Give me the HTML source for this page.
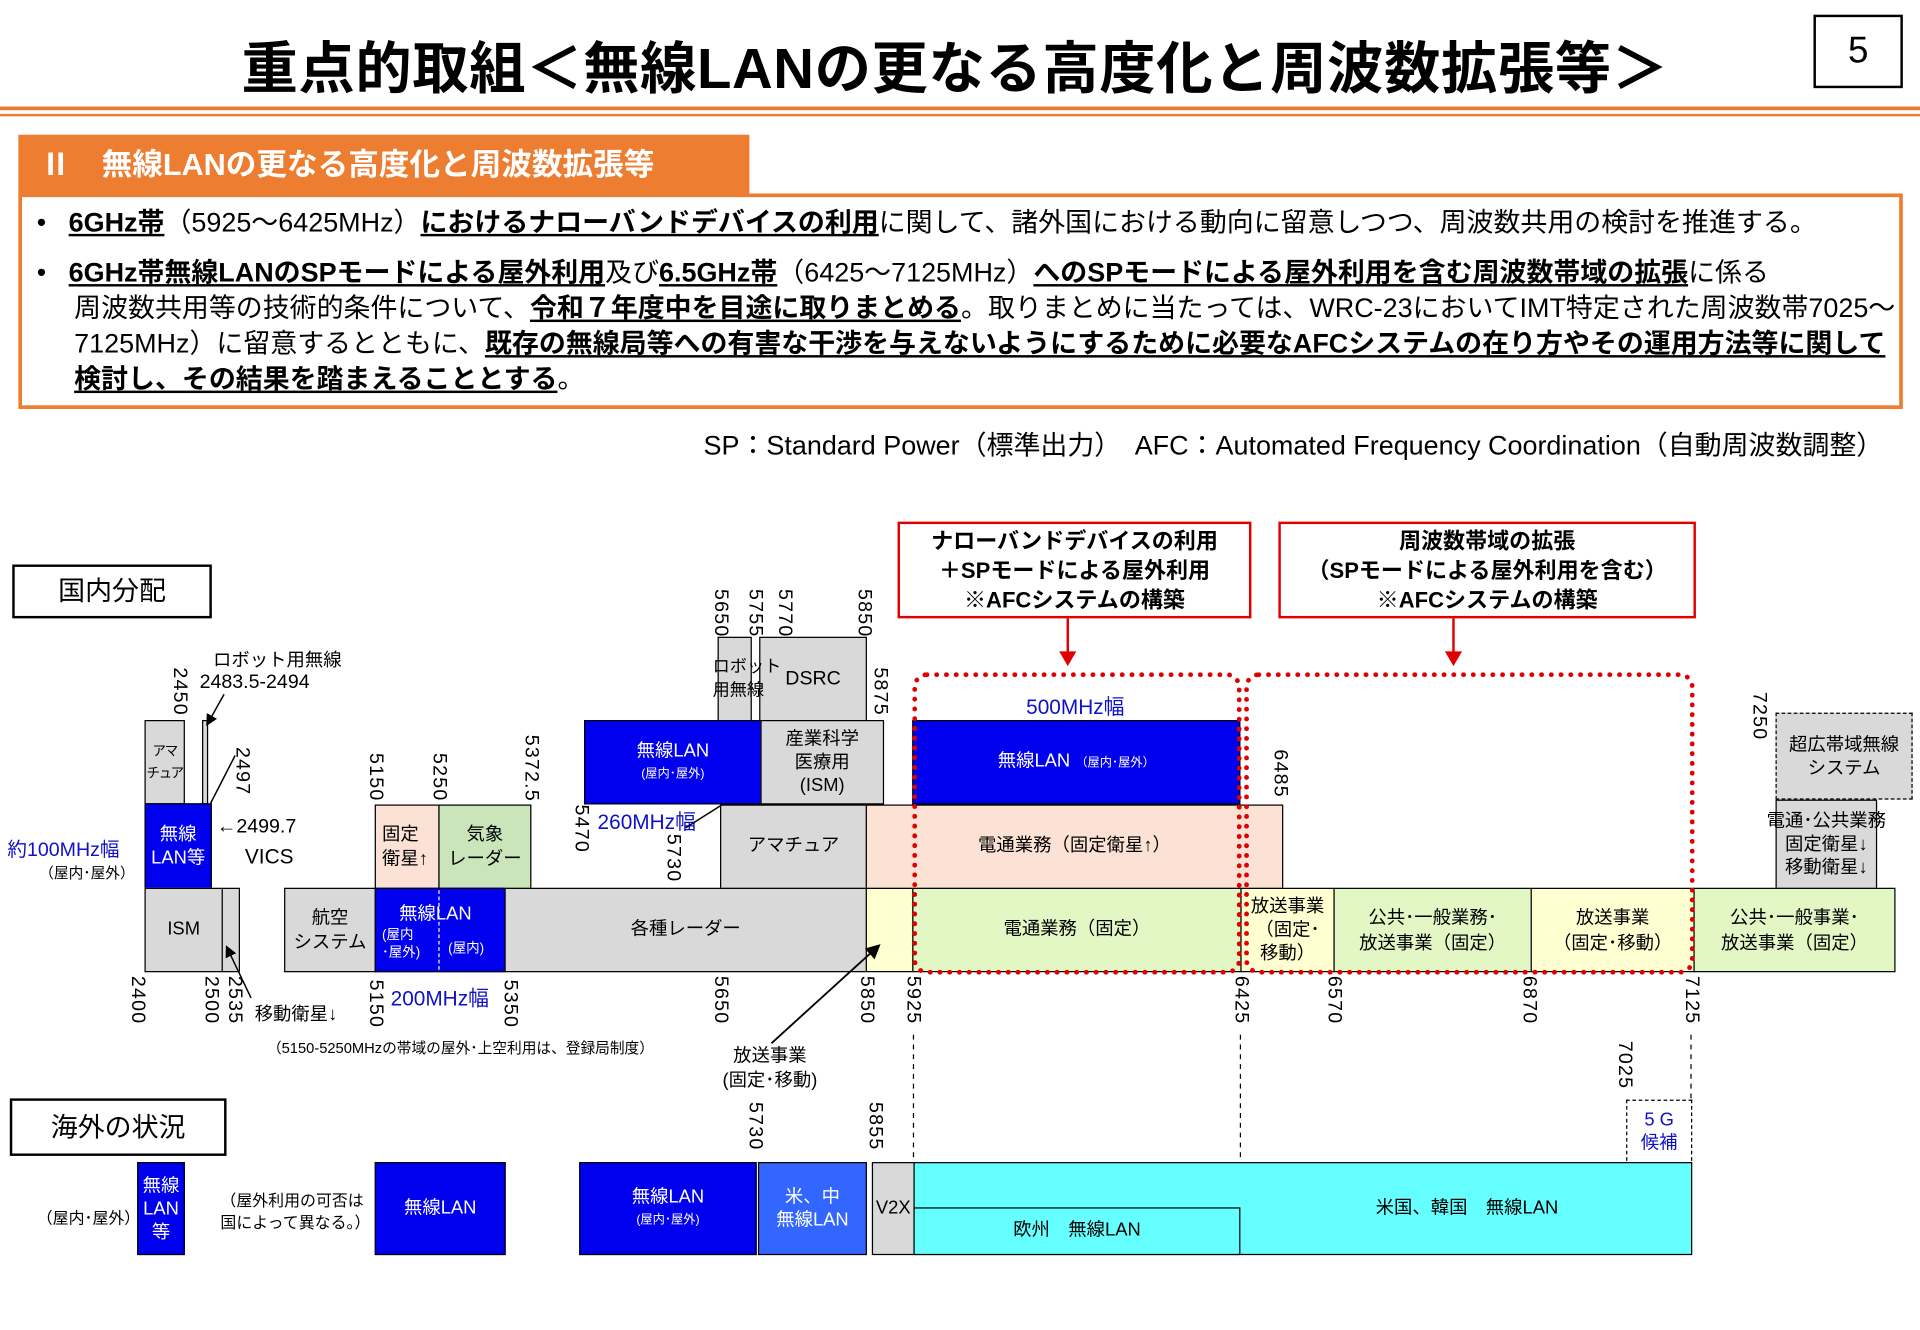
<!DOCTYPE html>
<html><head><meta charset="utf-8">
<style>
html,body{margin:0;padding:0;background:#fff;overflow:hidden;width:1920px;height:1329px}
#s{position:absolute;left:0;top:0;width:1568px;height:1086px;transform:scale(1.22449);transform-origin:0 0;font-family:"Liberation Sans","Noto Sans CJK JP",sans-serif;color:#000}
#s div{position:absolute;box-sizing:border-box}
.b{display:flex;align-items:center;justify-content:center;text-align:center;border:1.5px solid #000;font-size:15px;line-height:1.25}
.g{background:#d9d9d9}.bl{background:#0000ee;color:#fff}.pk{background:#fbe2d5}.gr{background:#e2f7c4}.ye{background:#ffffd2}.gg{background:#c9e5b9}
.v{writing-mode:vertical-rl;font-size:16px;line-height:1;letter-spacing:1px}
.t{font-size:15px;white-space:nowrap}
.sm{font-size:10px}
.u{text-decoration:underline;font-weight:bold}
.blu{color:#1010c8}
</style></head><body><div id="s">
<div style="left:0;top:20px;width:1560px;text-align:center;font-size:46px;font-weight:bold;letter-spacing:0.5px;white-space:nowrap">重点的取組＜無線LANの更なる高度化と周波数拡張等＞</div>
<div style="left:1481px;top:12px;width:73px;height:60px;border:2px solid #000;font-size:30px;text-align:center;line-height:56px">5</div>
<div style="left:0;top:87px;width:1568px;height:3px;background:#e97c30"></div>
<div style="left:0;top:93px;width:1568px;height:2px;background:#e97c30"></div>
<div style="left:15px;top:110px;width:597px;height:50px;background:#ed7d31;color:#fff;font-size:25px;font-weight:bold;line-height:50px;padding-left:18px">Ⅱ　無線LANの更なる高度化と周波数拡張等</div>
<div style="left:15px;top:158px;width:1539px;height:176px;border:3px solid #ed7d31"></div>
<div style="left:30px;top:167px;width:1520px;font-size:22px;line-height:29px;white-space:nowrap">•&nbsp;&nbsp;&nbsp;<span class="u">6GHz帯</span>（5925～6425MHz）<span class="u">におけるナローバンドデバイスの利用</span>に関して、諸外国における動向に留意しつつ、周波数共用の検討を推進する。</div>
<div style="left:30px;top:208px;width:1520px;font-size:22px;line-height:29px;white-space:nowrap">•&nbsp;&nbsp;&nbsp;<span class="u">6GHz帯無線LANのSPモードによる屋外利用</span>及び<span class="u">6.5GHz帯</span>（6425～7125MHz）<span class="u">へのSPモードによる屋外利用を含む周波数帯域の拡張</span>に係る<br>&nbsp;&nbsp;&nbsp;&nbsp;&nbsp;周波数共用等の技術的条件について、<span class="u">令和７年度中を目途に取りまとめる</span>。取りまとめに当たっては、WRC-23においてIMT特定された周波数帯7025～<br>&nbsp;&nbsp;&nbsp;&nbsp;&nbsp;7125MHz）に留意するとともに、<span class="u">既存の無線局等への有害な干渉を与えないようにするために必要なAFCシステムの在り方やその運用方法等に関して</span><br>&nbsp;&nbsp;&nbsp;&nbsp;&nbsp;<span class="u">検討し、その結果を踏まえることとする</span>。</div>
<div style="left:400px;top:346px;width:1138px;text-align:right;font-size:22px;white-space:nowrap">SP：Standard Power（標準出力）　AFC：Automated Frequency Coordination（自動周波数調整）</div>

<div class="b" style="left:10px;top:461px;width:163px;height:44px;border-width:2px;font-size:22px">国内分配</div>
<div class="b" style="left:8px;top:897px;width:177px;height:47px;border-width:2px;font-size:22px">海外の状況</div>

<div class="b" style="left:733px;top:426px;width:289px;height:79px;border:2.5px solid #e00000;font-weight:bold;font-size:18px;line-height:24px">ナローバンドデバイスの利用<br>＋SPモードによる屋外利用<br>※AFCシステムの構築</div>
<div class="b" style="left:1044px;top:426px;width:341px;height:79px;border:2.5px solid #e00000;font-weight:bold;font-size:18px;line-height:24px">周波数帯域の拡張<br>（SPモードによる屋外利用を含む）<br>※AFCシステムの構築</div>
<div style="left:871px;top:505px;width:2px;height:36px;background:#e00000"></div>
<div style="left:865px;top:532px;width:0;height:0;border-left:7px solid transparent;border-right:7px solid transparent;border-top:12px solid #e00000"></div>
<div style="left:1186px;top:505px;width:2px;height:36px;background:#e00000"></div>
<div style="left:1180px;top:532px;width:0;height:0;border-left:7px solid transparent;border-right:7px solid transparent;border-top:12px solid #e00000"></div>

<!-- row 4 -->
<div class="b g" style="left:586px;top:520px;width:28px;height:69px"></div>
<div class="t" style="left:582px;top:535px;font-size:14px;line-height:19px;z-index:2">ロボット<br>用無線</div>
<div class="b g" style="left:620px;top:520px;width:88px;height:69px;font-size:16px">DSRC</div>
<!-- row 3 -->
<div class="b g" style="left:118px;top:588px;width:33px;height:69px;font-size:11px;line-height:18px;letter-spacing:-1px">アマ<br>チュア</div>
<div class="b g" style="left:165px;top:588px;width:5px;height:69px"></div>
<div class="b bl" style="left:477px;top:588px;width:145px;height:69px;font-size:15px;line-height:17px"><span>無線LAN<br><span class="sm">(屋内･屋外)</span></span></div>
<div class="b g" style="left:621px;top:588px;width:101px;height:69px;font-size:15px;line-height:19px">産業科学<br>医療用<br>(ISM)</div>
<div class="b bl" style="left:745px;top:588px;width:268px;height:69px;font-size:15px"><span>無線LAN <span class="sm">（屋内･屋外）</span></span></div>
<div class="b g" style="left:1450px;top:582px;width:112px;height:71px;border:1.5px dashed #000;font-size:15px;line-height:19px">超広帯域無線<br>システム</div>
<!-- row 2 -->
<div class="b bl" style="left:118px;top:656px;width:55px;height:70px;font-size:15px;line-height:19px">無線<br>LAN等</div>
<div class="b pk" style="left:306px;top:657px;width:53px;height:69px;justify-content:flex-start;padding-left:5px;text-align:left;line-height:20px">固定<br>衛星↑</div>
<div class="b gg" style="left:358px;top:657px;width:76px;height:69px;line-height:20px">気象<br>レーダー</div>
<div class="b g" style="left:588px;top:657px;width:120px;height:69px">アマチュア</div>
<div class="b pk" style="left:707px;top:657px;width:341px;height:69px">電通業務（固定衛星↑）</div>
<div class="b g" style="left:1450px;top:653px;width:83px;height:73px;font-size:15px;line-height:19px;white-space:nowrap">電通･公共業務<br>固定衛星↓<br>移動衛星↓</div>
<!-- row 1 -->
<div class="b g" style="left:118px;top:725px;width:64px;height:69px">ISM</div>
<div class="b g" style="left:181px;top:725px;width:15px;height:69px"></div>
<div class="b g" style="left:232px;top:725px;width:75px;height:69px;line-height:20px">航空<br>システム</div>
<div class="b bl" style="left:306px;top:725px;width:107px;height:69px"></div>
<div style="left:358px;top:727px;width:0;height:65px;border-left:1.5px dashed #fff"></div>
<div class="t" style="left:326px;top:735px;color:#fff;font-size:15px">無線LAN</div>
<div class="t" style="left:312px;top:757px;color:#fff;font-size:11px;line-height:14px">(屋内<br>･屋外)</div>
<div class="t" style="left:366px;top:766px;color:#fff;font-size:11px">(屋内)</div>
<div class="b g" style="left:412px;top:725px;width:296px;height:69px">各種レーダー</div>
<div class="b ye" style="left:707px;top:725px;width:39px;height:69px"></div>
<div class="b gr" style="left:745px;top:725px;width:269px;height:69px">電通業務（固定）</div>
<div class="b ye" style="left:1013px;top:725px;width:77px;height:69px;line-height:19px">放送事業<br>（固定･<br>移動）</div>
<div class="b gr" style="left:1089px;top:725px;width:162px;height:69px;line-height:21px">公共･一般業務･<br>放送事業（固定）</div>
<div class="b ye" style="left:1250px;top:725px;width:134px;height:69px;line-height:21px">放送事業<br>（固定･移動）</div>
<div class="b gr" style="left:1383px;top:725px;width:165px;height:69px;line-height:21px">公共･一般事業･<br>放送事業（固定）</div>

<!-- dotted red -->
<div style="left:745px;top:549px;width:269px;height:247px;border:4px dotted #e00000;border-radius:12px"></div>
<div style="left:1016px;top:549px;width:368px;height:247px;border:4px dotted #e00000;border-radius:12px"></div>

<!-- labels -->
<div class="t blu" style="left:838px;top:563px;font-size:17px">500MHz幅</div>
<div class="t blu" style="left:488px;top:657px;font-size:17px">260MHz幅</div>
<div class="t blu" style="left:319px;top:801px;font-size:17px">200MHz幅</div>
<div class="t blu" style="left:6px;top:680px;font-size:16px">約100MHz幅</div>
<div class="t" style="left:32px;top:704px;font-size:12px">（屋内･屋外）</div>
<div class="t" style="left:174px;top:528px">ロボット用無線</div>
<div class="t" style="left:163px;top:549px;font-size:16px">2483.5-2494</div>
<div class="t" style="left:177px;top:667px;font-size:16px">←2499.7</div>
<div class="t" style="left:200px;top:690px;font-size:17px">VICS</div>
<div class="t" style="left:208px;top:817px">移動衛星↓</div>
<div class="t" style="left:218px;top:847px;font-size:12px">（5150-5250MHzの帯域の屋外･上空利用は、登録局制度）</div>
<div class="t" style="left:590px;top:853px;line-height:20px;text-align:center">放送事業<br>(固定･移動)</div>
<svg style="position:absolute;left:0;top:0" width="1568" height="1086">
<defs><marker id="a" markerWidth="8" markerHeight="8" refX="7" refY="4" orient="auto"><path d="M0,0 L8,4 L0,8 z" fill="#000"/></marker></defs>
<line x1="183" y1="567" x2="169" y2="592" stroke="#000" stroke-width="1.2" marker-end="url(#a)"/>
<line x1="172" y1="656" x2="192" y2="617" stroke="#000" stroke-width="1.2"/>
<line x1="205" y1="815" x2="185" y2="773" stroke="#000" stroke-width="1.2" marker-end="url(#a)"/>
<line x1="630" y1="852" x2="718" y2="772" stroke="#000" stroke-width="1.5" marker-end="url(#a)"/>
<line x1="560" y1="676" x2="590" y2="657" stroke="#000" stroke-width="1.2"/>
<line x1="746" y1="845" x2="746" y2="949" stroke="#000" stroke-dasharray="4,4"/>
<line x1="1013" y1="845" x2="1013" y2="949" stroke="#000" stroke-dasharray="4,4"/>
<line x1="1381" y1="845" x2="1381" y2="949" stroke="#000" stroke-dasharray="4,4"/>
</svg>
<!-- vertical numbers -->
<div class="v" style="left:138px;top:545px">2450</div>
<div class="v" style="left:189px;top:610px">2497</div>
<div class="v" style="left:104px;top:797px">2400</div>
<div class="v" style="left:164px;top:797px">2500</div>
<div class="v" style="left:183px;top:797px">2535</div>
<div class="v" style="left:298px;top:615px">5150</div>
<div class="v" style="left:350px;top:615px">5250</div>
<div class="v" style="left:425px;top:600px">5372.5</div>
<div class="v" style="left:298px;top:800px">5150</div>
<div class="v" style="left:408px;top:800px">5350</div>
<div class="v" style="left:466px;top:657px">5470</div>
<div class="v" style="left:541px;top:681px">5730</div>
<div class="v" style="left:580px;top:481px">5650</div>
<div class="v" style="left:608px;top:481px">5755</div>
<div class="v" style="left:632px;top:481px">5770</div>
<div class="v" style="left:697px;top:481px">5850</div>
<div class="v" style="left:710px;top:545px">5875</div>
<div class="v" style="left:580px;top:797px">5650</div>
<div class="v" style="left:699px;top:797px">5850</div>
<div class="v" style="left:737px;top:797px">5925</div>
<div class="v" style="left:1005px;top:797px">6425</div>
<div class="v" style="left:1037px;top:612px">6485</div>
<div class="v" style="left:1081px;top:797px">6570</div>
<div class="v" style="left:1240px;top:797px">6870</div>
<div class="v" style="left:1373px;top:797px">7125</div>
<div class="v" style="left:1428px;top:565px">7250</div>
<div class="v" style="left:1318px;top:850px">7025</div>
<div class="v" style="left:608px;top:900px">5730</div>
<div class="v" style="left:706px;top:900px">5855</div>

<!-- overseas -->
<div class="t" style="left:30px;top:984px;font-size:13px">（屋内･屋外）</div>
<div class="b bl" style="left:112px;top:949px;width:39px;height:76px;line-height:19px">無線<br>LAN<br>等</div>
<div class="t" style="left:180px;top:972px;font-size:13px;line-height:18px">（屋外利用の可否は<br>国によって異なる。）</div>
<div class="b bl" style="left:306px;top:949px;width:107px;height:76px">無線LAN</div>
<div class="b bl" style="left:473px;top:949px;width:145px;height:76px;line-height:17px"><span>無線LAN<br><span class="sm">(屋内･屋外)</span></span></div>
<div class="b" style="left:619px;top:949px;width:89px;height:76px;background:#3366ff;color:#fff;line-height:19px">米、中<br>無線LAN</div>
<div class="b g" style="left:712px;top:949px;width:35px;height:76px">V2X</div>
<div class="b" style="left:746px;top:949px;width:636px;height:76px;background:#66ffff;padding-left:268px">米国、韓国　無線LAN</div>
<div class="b" style="left:746px;top:986px;width:267px;height:39px;background:#66ffff">欧州　無線LAN</div>
<div class="b blu" style="left:1328px;top:898px;width:54px;height:50px;border:1.5px dashed #000;border-bottom:none;background:#fff;line-height:19px">5 G<br>候補</div>
</div></body></html>
